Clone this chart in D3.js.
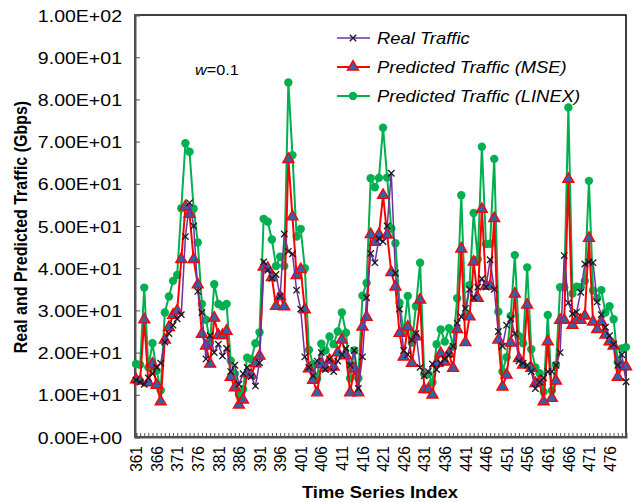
<!DOCTYPE html>
<html>
<head>
<meta charset="utf-8">
<script src="https://cdn.jsdelivr.net/npm/d3@7"></script>
<style>
  body { margin: 0; background: #fff; }
  svg { display: block; }
  text { font-family: "Liberation Sans", Arial, Helvetica, sans-serif; fill: #000; }
</style>
</head>
<body>
<svg id="chart" width="635" height="502"></svg>
<script>
// Time series index (x categories)
const timeIndex = d3.range(361, 481);

// Measured traffic (Gbps)
const realTraffic = [
  13.5, 13.0, 12.5, 14.0, 15.0, 16.5, 17.5, 22.5, 24.5, 26.5,
  28.0, 29.0, 47.5, 55.5, 50.0, 34.5, 29.5, 18.5, 24.0, 20.0,
  22.0, 19.2, 21.0, 15.5, 17.0, 12.5, 15.0, 16.5, 14.3, 12.1,
  17.6, 41.5, 39.5, 37.6, 38.5, 33.4, 48.1, 44.0, 43.4, 34.8,
  30.3, 19.0, 16.5, 14.5, 18.0, 20.0, 16.0, 18.5, 15.5, 18.0,
  19.5, 21.0, 17.0, 20.5, 11.5, 19.0, 33.0, 43.5, 41.3, 47.0,
  46.3, 50.0, 62.5, 38.8, 30.3, 20.5, 19.5, 23.0, 24.5, 16.5,
  14.5, 15.5, 17.3, 16.0, 17.5, 18.5, 19.5, 21.5, 27.0, 28.5,
  30.5, 35.0, 33.0, 35.5, 37.5, 35.5, 42.0, 35.0, 25.0, 21.5,
  26.5, 28.0, 24.5, 18.0, 17.5, 17.0, 15.5, 11.5, 13.0, 14.0,
  15.5, 15.5, 17.0, 20.0, 43.0, 31.8, 29.2, 29.6, 34.3, 41.0,
  41.5, 41.3, 32.0, 29.0, 26.0, 24.0, 22.0, 17.0, 19.5, 13.1
];

// Prediction with MSE loss (Gbps)
const predictedMSE = [
  13.6, 13.3, 27.8, 12.9, 17.3, 12.3, 8.4, 23.0, 26.0, 28.9,
  29.9, 42.1, 54.6, 52.8, 42.1, 36.1, 24.4, 21.6, 17.3, 28.2,
  24.1, 24.1, 25.1, 14.2, 11.7, 7.6, 8.8, 15.0, 14.7, 17.4,
  19.2, 40.3, 40.0, 37.8, 31.0, 33.3, 30.9, 65.8, 52.2, 38.3,
  39.7, 30.2, 16.2, 13.5, 10.5, 17.2, 16.4, 18.2, 16.6, 20.0,
  23.0, 19.3, 10.5, 16.2, 10.5, 26.1, 28.4, 48.0, 46.2, 48.0,
  57.3, 47.9, 39.0, 35.6, 24.6, 19.0, 26.1, 17.5, 23.8, 32.5,
  11.3, 11.3, 10.0, 17.5, 19.8, 17.8, 19.8, 16.3, 25.5, 44.6,
  22.4, 28.5, 41.5, 32.9, 54.0, 35.8, 35.8, 51.8, 23.0, 11.9,
  14.7, 22.3, 33.9, 18.6, 17.1, 31.3, 16.3, 12.7, 13.1, 8.4,
  22.6, 9.2, 13.3, 27.7, 27.7, 61.1, 26.5, 27.7, 27.7, 28.7,
  47.1, 27.3, 25.5, 27.3, 24.2, 22.6, 21.6, 14.2, 16.7, 16.7
];

// Prediction with LINEX loss (Gbps)
const predictedLINEX = [
  17.3, 17.1, 35.4, 16.5, 22.2, 15.7, 11.1, 29.5, 33.3, 37.0,
  38.4, 54.2, 69.6, 67.6, 54.1, 46.1, 31.5, 27.8, 22.4, 36.2,
  31.5, 31.0, 31.5, 18.1, 15.0, 10.0, 11.3, 18.8, 18.4, 22.2,
  24.8, 51.7, 51.0, 46.8, 40.5, 42.7, 40.5, 84.0, 66.8, 47.5,
  49.3, 40.0, 20.6, 17.3, 13.8, 22.1, 20.5, 23.8, 22.0, 25.0,
  29.5, 24.7, 13.9, 20.5, 13.9, 33.5, 36.5, 61.3, 59.2, 61.4,
  73.3, 61.5, 49.4, 45.9, 31.8, 24.7, 33.4, 22.3, 31.0, 41.3,
  14.9, 14.9, 12.9, 22.0, 25.5, 22.6, 25.8, 21.4, 32.9, 57.3,
  28.9, 36.0, 53.1, 42.1, 68.8, 45.7, 45.8, 65.9, 29.7, 15.5,
  18.9, 28.7, 43.1, 23.9, 22.2, 40.2, 20.8, 16.5, 15.1, 10.7,
  28.9, 11.0, 17.1, 35.5, 35.5, 78.1, 34.0, 35.6, 35.5, 37.0,
  60.7, 34.7, 32.9, 34.8, 29.5, 31.0, 27.9, 17.8, 21.0, 21.3
];

const yTickValues = [0, 10, 20, 30, 40, 50, 60, 70, 80, 90, 100];
const yTickLabels = ["0.00E+00", "1.00E+01", "2.00E+01", "3.00E+01", "4.00E+01",
  "5.00E+01", "6.00E+01", "7.00E+01", "8.00E+01", "9.00E+01", "1.00E+02"];
const xTickLabels = [361, 366, 371, 376, 381, 386, 391, 396, 401, 406, 411, 416,
  421, 426, 431, 436, 441, 446, 451, 456, 461, 466, 471, 476];

const seriesNames = ["Real Traffic", "Predicted Traffic (MSE)", "Predicted Traffic (LINEX)"];

// ---- drawing ----
const SX = 1.15; // glyphs are drawn slightly wide
const plot = { left: 135, right: 626, top: 15, bottom: 437 };
const svg = d3.select("#chart");

const x = d3.scaleLinear().domain([361, 480]).range([136, 626]);
const y = d3.scaleLinear().domain([0, 100]).range([plot.bottom, plot.top]);

const colors = { real: "#7030a0", realMark: "#1a1a1a", mse: "#ff0000", mseFill: "#2f63b0", linex: "#00b050" };

// frame
svg.append("rect")
  .attr("x", plot.left).attr("y", plot.top)
  .attr("width", plot.right - plot.left).attr("height", plot.bottom - plot.top)
  .attr("fill", "none").attr("stroke", "#000").attr("stroke-width", 1.5);

// y axis
const yAxis = svg.append("g")
  .attr("transform", `translate(${plot.left},0)`)
  .call(d3.axisLeft(y).tickValues(yTickValues).tickSize(-5).tickPadding(0)
    .tickFormat((d, i) => yTickLabels[i]));
yAxis.select(".domain").attr("stroke", "#555").attr("stroke-width", 2);
yAxis.selectAll(".tick line").attr("stroke", "#555");
yAxis.selectAll(".tick text")
  .attr("x", 0).attr("dy", "0.36em")
  .attr("text-anchor", "end")
  .attr("transform", `translate(-13,0) scale(${SX},1)`)
  .style("font-size", "17px");

// x axis: minor tick on every index, label every 5
const xAxis = svg.append("g")
  .attr("transform", `translate(0,${plot.bottom})`)
  .call(d3.axisBottom(x).tickValues(timeIndex).tickSize(-4).tickPadding(0)
    .tickFormat(d => xTickLabels.includes(d) ? String(d) : ""));
xAxis.select(".domain").attr("stroke", "#555").attr("stroke-width", 2);
xAxis.selectAll(".tick line").attr("stroke", "#555");
xAxis.selectAll(".tick text")
  .attr("x", 0).attr("y", 0).attr("dy", "0.36em")
  .attr("text-anchor", "end")
  .attr("transform", `translate(0,9) scale(1.02,1) rotate(-90)`)
  .style("font-size", "15.5px");

// axis titles
svg.append("text")
  .attr("transform", `translate(380,498) scale(${SX},1)`)
  .attr("text-anchor", "middle")
  .style("font-size", "16px").style("font-weight", "bold")
  .text("Time Series Index");
svg.append("text")
  .attr("transform", `translate(27,227) scale(${SX},1) rotate(-90)`)
  .attr("text-anchor", "middle")
  .style("font-size", "16px").style("font-weight", "bold")
  .text("Real and Predicted Traffic (Gbps)");

// series
const line = d3.line().x((d, i) => x(timeIndex[i])).y(d => y(d));
const tri = d3.symbol().type(d3.symbolTriangle).size(52);
const xMark = "M-3.2,-3.2L3.2,3.2M3.2,-3.2L-3.2,3.2";

function drawLinex(g) {
  g.append("path").datum(predictedLINEX).attr("d", line)
    .attr("fill", "none").attr("stroke", colors.linex).attr("stroke-width", 2);
  g.selectAll("circle").data(predictedLINEX).join("circle")
    .attr("cx", (d, i) => x(timeIndex[i])).attr("cy", d => y(d))
    .attr("r", 4.2).attr("fill", colors.linex);
}
function drawMSE(g) {
  g.append("path").datum(predictedMSE).attr("d", line)
    .attr("fill", "none").attr("stroke", colors.mse).attr("stroke-width", 2);
  g.selectAll(".tri").data(predictedMSE).join("path").attr("class", "tri")
    .attr("d", tri)
    .attr("transform", (d, i) => `translate(${x(timeIndex[i])},${y(d)})`)
    .attr("fill", colors.mseFill).attr("stroke", colors.mse).attr("stroke-width", 1.4);
}
function drawReal(g) {
  g.append("path").datum(realTraffic).attr("d", line)
    .attr("fill", "none").attr("stroke", colors.real).attr("stroke-width", 1.5);
  g.selectAll(".xm").data(realTraffic).join("path").attr("class", "xm")
    .attr("d", xMark)
    .attr("transform", (d, i) => `translate(${x(timeIndex[i])},${y(d)})`)
    .attr("fill", "none").attr("stroke", colors.realMark).attr("stroke-width", 1.3);
}
drawLinex(svg.append("g"));
drawMSE(svg.append("g"));
drawReal(svg.append("g"));

// annotation
const wText = svg.append("text")
  .attr("transform", `translate(195,75) scale(1.08,1)`)
  .style("font-size", "15px");
wText.append("tspan").style("font-style", "italic").text("w");
wText.append("tspan").text("=0.1");

// legend
const legend = svg.append("g");
const rowsY = [38, 67, 96];
seriesNames.forEach((name, k) => {
  const gy = rowsY[k];
  const g = legend.append("g");
  const col = [colors.real, colors.mse, colors.linex][k];
  g.append("line").attr("x1", 337).attr("x2", 370).attr("y1", gy).attr("y2", gy)
    .attr("stroke", col).attr("stroke-width", k === 0 ? 1.5 : 2);
  if (k === 0) {
    g.append("path").attr("d", xMark).attr("transform", `translate(353,${gy})`)
      .attr("stroke", colors.realMark).attr("stroke-width", 1.3).attr("fill", "none");
  } else if (k === 1) {
    g.append("path").attr("d", tri).attr("transform", `translate(353,${gy})`)
      .attr("fill", colors.mseFill).attr("stroke", colors.mse).attr("stroke-width", 1.4);
  } else {
    g.append("circle").attr("cx", 353).attr("cy", gy).attr("r", 4.2).attr("fill", colors.linex);
  }
  g.append("text")
    .attr("transform", `translate(377,${gy + 6}) scale(${SX},1)`)
    .style("font-size", "16px").style("font-style", "italic")
    .text(name);
});
</script>
</body>
</html>
